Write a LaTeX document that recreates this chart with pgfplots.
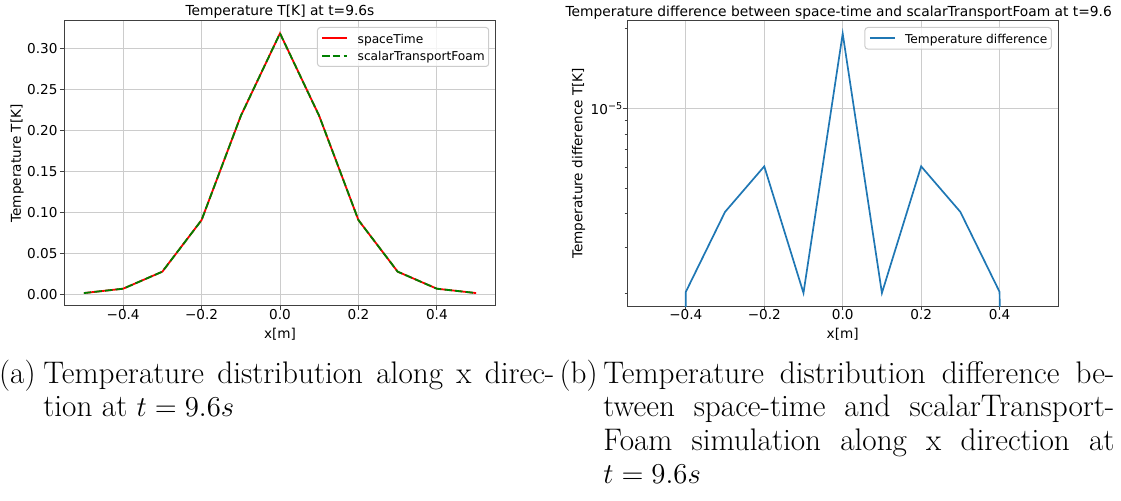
\documentclass[border=0pt]{standalone}
\usepackage{fontspec}
\newfontfamily\dejavu{DejaVu Sans}
\usepackage{pgfplots}
\pgfplotsset{compat=1.18}
\definecolor{mplblue}{HTML}{1F77B4}
\definecolor{mplgreen}{HTML}{008000}
\newcommand\capfont{\fontsize{15.6pt}{16.75pt}\selectfont}
\newcommand\chartfont{\dejavu\fontsize{6.8pt}{8pt}\selectfont}
\newcommand\titlefont{\dejavu\fontsize{6.9pt}{8pt}\selectfont}
\newcommand\legfont{\dejavu\fontsize{6.1pt}{7.3pt}\selectfont}
\pgfplotsset{
  mpl/.style={
    scale only axis, width=215.7pt, height=142.65pt,
    anchor=south west,
    tick align=outside, tick pos=left,
    major tick length=2.2pt, minor tick length=1.2pt,
    axis line style={black!75, line width=0.5pt},
    every tick/.style={black!75, line width=0.45pt},
    grid=major,
    major grid style={black!20, line width=0.45pt},
    xmin=-0.55, xmax=0.55,
    xtick={-0.4,-0.2,0,0.2,0.4},
    xticklabels={−0.4,−0.2,0.0,0.2,0.4},
    tick label style={font=\chartfont, inner sep=0pt},
    xticklabel style={anchor=base, yshift=-4.7pt},
    label style={font=\chartfont, inner sep=0pt},
    xlabel style={at={(axis description cs:0.5,-0.113)}, anchor=base},
    every axis title shift=0pt,
    title style={font=\titlefont, inner sep=0pt, anchor=base},
    legend style={font=\legfont, draw=black!20, line width=0.5pt, rounded corners=1.5pt,
      fill=white, fill opacity=0.8, text opacity=1,
      at={(axis description cs:0.985,0.978)}, anchor=north east,
      inner xsep=2pt, inner ysep=0.4pt, row sep=-1.3pt,
      nodes={inner sep=0pt, text height=0.75em, text depth=0.25em}},
    legend cell align=left,
    /tikz/every odd column/.append style={column sep=4.7pt},
  }
}
\begin{document}
\begin{tikzpicture}
\path[use as bounding box] (0,0) rectangle (560.5pt,250.5pt);

% ---------- left plot ----------
\begin{axis}[mpl, at={(32.15pt,97.5pt)},
  legend image code/.code={\draw[#1] (0pt,0pt) -- (12.5pt,0pt);},
  ymin=-0.01427, ymax=0.3337,
  ytick={0,0.05,0.1,0.15,0.2,0.25,0.3},
  yticklabels={0.00,0.05,0.10,0.15,0.20,0.25,0.30},
  yticklabel style={anchor=east, xshift=-1pt},
  title={Temperature T[K] at t=9.6s},
  title style={at={(axis description cs:0.5,1.0165)}},
  xlabel={x[m]},
  ylabel={Temperature T[K]},
  ylabel style={at={(axis description cs:-0.1004,0.5)}, anchor=base},
]
\addplot[red, line width=0.9pt] coordinates {
  (-0.5,0.0015) (-0.4,0.0068) (-0.3,0.0276) (-0.2,0.0905) (-0.1,0.2175)
  (0,0.3183) (0.1,0.2175) (0.2,0.0905) (0.3,0.0276) (0.4,0.0068) (0.5,0.0015)};
\addlegendentry{spaceTime}
\addplot[mplgreen, line width=0.9pt, dash pattern=on 3.7pt off 1.6pt] coordinates {
  (-0.5,0.0015) (-0.4,0.0068) (-0.3,0.0276) (-0.2,0.0905) (-0.1,0.2175)
  (0,0.3183) (0.1,0.2175) (0.2,0.0905) (0.3,0.0276) (0.4,0.0068) (0.5,0.0015)};
\addlegendentry{scalarTransportFoam}
\end{axis}

% ---------- right plot ----------
\begin{axis}[mpl, at={(313.5pt,97.5pt)},
  legend image code/.code={\draw[#1] (0pt,0pt) -- (12.5pt,0pt);},
  ymode=log, ymin=1.795e-6, ymax=2.148e-5,
  ytick={1e-5}, yticklabels={10\raisebox{0.42em}{\fontsize{4.8pt}{5pt}\selectfont −5}},
  yticklabel style={anchor=east, xshift=0pt},
  minor ytick={2e-6,3e-6,4e-6,5e-6,6e-6,7e-6,8e-6,9e-6,2e-5},
  title={Temperature difference between space-time and scalarTransportFoam at t=9.6},
  title style={at={(axis description cs:0.4908,1.0165)}},
  xlabel={x[m]},
  ylabel={Temperature difference T[K]},
  ylabel style={at={(axis description cs:-0.1034,0.5)}, anchor=base},
]
\addplot[mplblue, line width=0.85pt] coordinates {
  (-0.5,1e-20) (-0.4,2.03e-6) (-0.3,4.07e-6) (-0.2,6.05e-6) (-0.1,2.01e-6)
  (0,1.92e-5) (0.1,2.01e-6) (0.2,6.05e-6) (0.3,4.07e-6) (0.4,2.03e-6) (0.5,1e-20)};
\addlegendentry{Temperature difference}
\end{axis}

% ---------- captions ----------
\node[anchor=base east, inner sep=0pt, font=\capfont] at (18pt,58.75pt) {(a)};
\node[anchor=base west, inner sep=0pt, font=\capfont] at (21.5pt,58.75pt)
  {\makebox[255.5pt][s]{Temperature distribution along x direc-}};
\node[anchor=base west, inner sep=0pt, font=\capfont] at (21.5pt,42pt)
  {tion at $t=9.6s$};

\node[anchor=base east, inner sep=0pt, font=\capfont] at (299pt,58.75pt) {(b)};
\node[anchor=base west, inner sep=0pt, font=\capfont] at (301.5pt,58.75pt)
  {\makebox[255.5pt][s]{Temperature distribution difference be-}};
\node[anchor=base west, inner sep=0pt, font=\capfont] at (301.5pt,42pt)
  {\makebox[255.5pt][s]{tween space-time and scalarTransport-}};
\node[anchor=base west, inner sep=0pt, font=\capfont] at (301.5pt,25.25pt)
  {\makebox[255.5pt][s]{Foam simulation along x direction at}};
\node[anchor=base west, inner sep=0pt, font=\capfont] at (301.5pt,8.5pt)
  {$t=9.6s$};
\end{tikzpicture}
\end{document}
